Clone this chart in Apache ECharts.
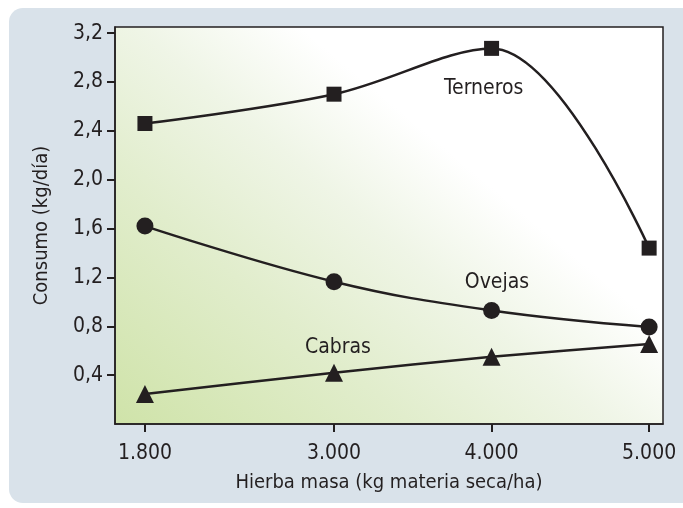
<!DOCTYPE html>
<html>
<head>
<meta charset="utf-8">
<script src="https://cdn.jsdelivr.net/npm/echarts@6/dist/echarts.min.js"></script>
<style>
  html, body { margin: 0; padding: 0; background: #ffffff; }
  #chart { width: 683px; height: 508px; }
</style>
</head>
<body>
<div id="chart"></div>
<script>
// datos
var hierba = [1800, 3000, 4000, 5000];
var terneros = [2.46, 2.70, 3.075, 1.44];
var ovejas = [1.62, 1.165, 0.93, 0.795];
var cabras = [0.245, 0.42, 0.55, 0.655];
var yTicks = [0.4, 0.8, 1.2, 1.6, 2.0, 2.4, 2.8, 3.2];
var xTicks = [1800, 3000, 4000, 5000];

var ink = '#231f20';
var font = "'Liberation Sans Narrow', 'DejaVu Sans Condensed', 'Roboto', sans-serif";

function pares(xs, ys) {
  return xs.map(function (x, i) { return [x, ys[i]]; });
}

function etiqueta(texto, punto) {
  return {
    symbol: 'circle',
    symbolSize: 1,
    itemStyle: { color: 'rgba(0,0,0,0)' },
    label: { show: true, position: 'inside', color: ink, fontFamily: font, fontSize: 21, formatter: texto },
    data: [{ coord: punto }]
  };
}

var chartDom = document.getElementById('chart');
var myChart = echarts.init(chartDom);

var option = {
  animation: false,
  backgroundColor: '#ffffff',
  graphic: [{
    type: 'rect',
    z: -10,
    shape: { x: 9, y: 8, width: 700, height: 495, r: 14 },
    style: { fill: '#d9e2ea' }
  }],
  grid: {
    left: 115, top: 27, right: 20, bottom: 84,
    show: true,
    borderColor: ink,
    borderWidth: 1.5,
    // degradado diagonal verde -> blanco
    backgroundColor: {
      type: 'linear', global: true,
      x: 115, y: 424, x2: 386, y2: 99,
      colorStops: [
        { offset: 0, color: '#cfe3a9' },
        { offset: 0.45, color: '#e1edcc' },
        { offset: 0.75, color: '#eff5e6' },
        { offset: 1, color: '#ffffff' }
      ]
    }
  },
  xAxis: {
    type: 'value',
    min: 1610, max: 5088,
    name: 'Hierba masa (kg materia seca/ha)',
    nameLocation: 'middle',
    nameGap: 49,
    nameTextStyle: { color: ink, fontFamily: font, fontSize: 20 },
    splitLine: { show: false },
    axisLine: { show: true, lineStyle: { color: ink, width: 1.5 } },
    axisTick: { show: true, length: 8, customValues: xTicks, lineStyle: { color: ink, width: 2 } },
    axisLabel: {
      customValues: xTicks,
      margin: 19,
      color: ink, fontFamily: font, fontSize: 21,
      formatter: function (v) { return String(v).replace(/(\d)(\d{3})$/, '$1.$2'); }
    }
  },
  yAxis: {
    type: 'value',
    min: 0, max: 3.25,
    name: 'Consumo (kg/día)',
    nameLocation: 'middle',
    nameGap: 63,
    nameTextStyle: { color: ink, fontFamily: font, fontSize: 20 },
    splitLine: { show: false },
    axisLine: { show: true, lineStyle: { color: ink, width: 1.5 } },
    axisTick: { show: true, length: 8, customValues: yTicks, lineStyle: { color: ink, width: 2 } },
    axisLabel: {
      customValues: yTicks,
      margin: 12,
      color: ink, fontFamily: font, fontSize: 21,
      formatter: function (v) { return v.toFixed(1).replace('.', ','); }
    }
  },
  series: [
    {
      name: 'Terneros',
      type: 'line',
      smooth: 0.35,
      data: pares(hierba, terneros),
      symbol: 'rect',
      symbolSize: 15,
      itemStyle: { color: ink },
      lineStyle: { color: ink, width: 2.5 },
      markPoint: etiqueta('Terneros', [3950, 2.75])
    },
    {
      name: 'Ovejas',
      type: 'line',
      smooth: 0.4,
      data: pares(hierba, ovejas),
      symbol: 'circle',
      symbolSize: 17,
      itemStyle: { color: ink },
      lineStyle: { color: ink, width: 2.5 },
      markPoint: etiqueta('Ovejas', [4034, 1.157])
    },
    {
      name: 'Cabras',
      type: 'line',
      smooth: 0.2,
      data: pares(hierba, cabras),
      symbol: 'triangle',
      symbolSize: 18,
      itemStyle: { color: ink },
      lineStyle: { color: ink, width: 2.5 },
      markPoint: etiqueta('Cabras', [3025, 0.626])
    }
  ]
};

option && myChart.setOption(option);
</script>
</body>
</html>
